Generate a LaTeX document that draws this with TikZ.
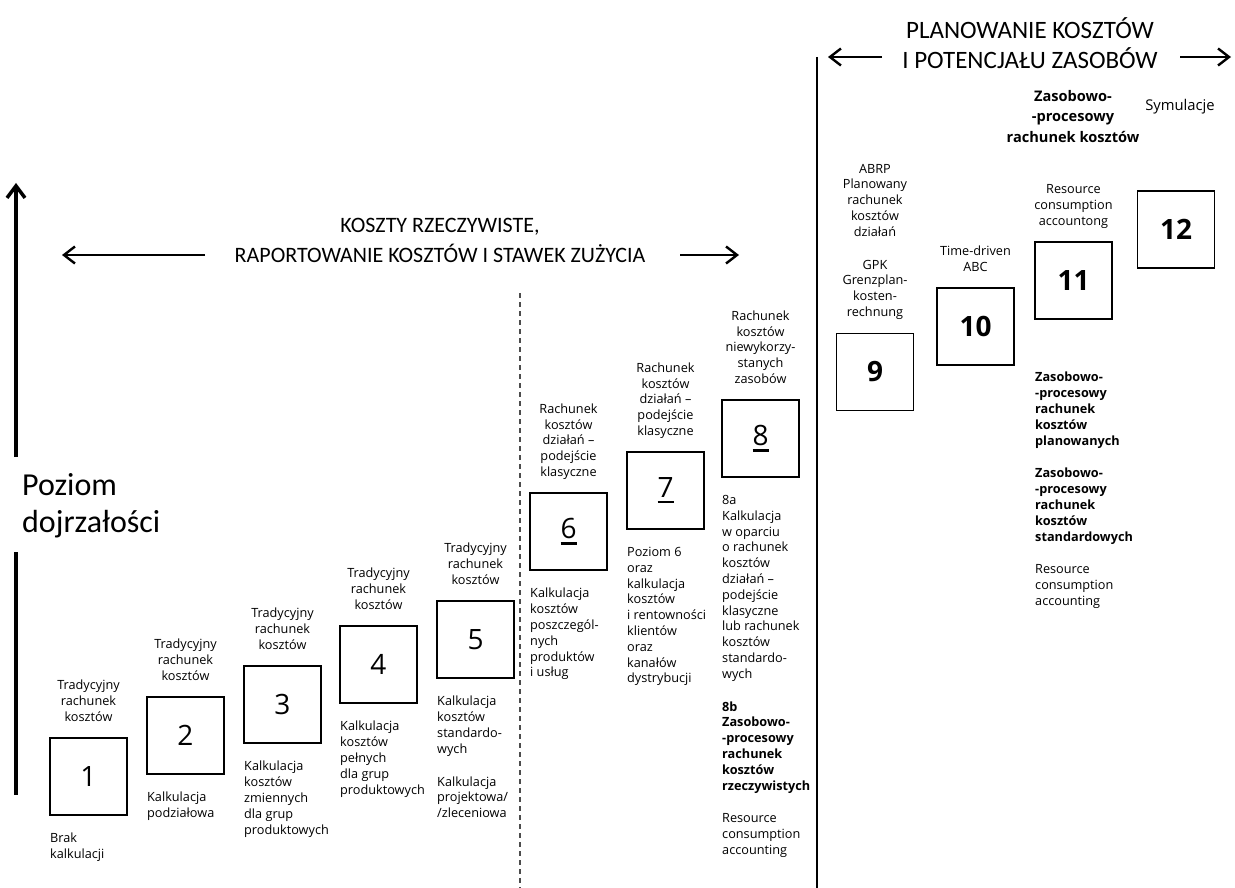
\documentclass[tikz,border=0pt]{standalone}
\usepackage{fontspec}
\setmainfont{Open Sans}
\newfontfamily\headfont{Carlito}
\usetikzlibrary{arrows.meta}
\newcommand{\dpfix}{\rule[-3.4pt]{0pt}{3.4pt}}
\newcommand{\digitul}[1]{\setbox0\hbox{#1}\rlap{\rule[-6pt]{\wd0}{2.3pt}}\box0}
\begin{document}
\begin{tikzpicture}[x=1pt,y=-1pt,
  box/.style={draw, line width=1.4pt, minimum size=77pt, inner sep=0pt, font=\fontsize{28}{30}\selectfont},
  bbox/.style={box, font=\fontsize{28}{30}\selectfont\bfseries},
  up/.style={anchor=south, align=center, inner sep=0pt, font=\fontsize{12.7}{15.8}\selectfont},
  dn/.style={anchor=north west, align=left, inner sep=0pt, font=\fontsize{12.7}{15.8}\selectfont},
  head/.style={align=center, inner sep=0pt, font=\headfont\fontsize{22}{30}\selectfont},
  headR/.style={align=center, inner sep=0pt, font=\headfont\fontsize{25}{30}\selectfont},
  harrow/.style={line width=2.4pt, -{Straight Barb[length=11pt,width=17pt]}},
  varrow/.style={line width=3.5pt, -{Straight Barb[length=12pt,width=18pt]}},
  vline/.style={line width=3.5pt},
  sep/.style={line width=1.5pt},
  dsep/.style={line width=1.4pt, draw=black!70, dash pattern=on 5pt off 4pt}
]
\useasboundingbox (0,0) rectangle (1235,888);

% boxes
\node[box] (b1) at (88.5,776.5) {1};
\node[box] (b2) at (185.5,735.5) {2};
\node[box] (b3) at (282.5,704.5) {3};
\node[box] (b4) at (378.5,664.5) {4};
\node[box] (b5) at (475.5,639.5) {5};
\node[box] (b6) at (568.5,531.5) {\digitul{6}};
\node[box] (b7) at (665.5,490.5) {\digitul{7}};
\node[box] (b8) at (760.5,438.5) {\digitul{8}};
\node[bbox] (b9) at (875,372) {9};
\node[bbox] (b10) at (975.5,326.5) {10};
\node[bbox] (b11) at (1073.5,280.5) {11};
\node[bbox] (b12) at (1176,229.5) {12};

% labels above boxes
\node[up] (a1) at (88.5,725) {Tradycyjny\\rachunek\\kosztów\dpfix};
\node[up] (a2) at (185.5,684) {Tradycyjny\\rachunek\\kosztów\dpfix};
\node[up] (a3) at (282.5,653) {Tradycyjny\\rachunek\\kosztów\dpfix};
\node[up] (a4) at (378.5,613) {Tradycyjny\\rachunek\\kosztów\dpfix};
\node[up] (a5) at (475.5,588) {Tradycyjny\\rachunek\\kosztów\dpfix};
\node[up] (a6) at (568.5,480) {Rachunek\\kosztów\\działań –\\podejście\\klasyczne\dpfix};
\node[up] (a7) at (665.5,439) {Rachunek\\kosztów\\działań –\\podejście\\klasyczne\dpfix};
\node[up] (a8) at (760.5,387) {Rachunek\\kosztów\\niewykorzy-\\stanych\\zasobów\dpfix};
\node[up] (a9) at (875,320) {ABRP\\Planowany\\rachunek\\kosztów\\działań\\[17pt]GPK\\Grenzplan-\\kosten-\\rechnung\dpfix};
\node[up] (a10) at (975.5,275) {Time-driven\\ABC\dpfix};
\node[up] (a11) at (1073.5,229) {Resource\\consumption\\accountong\dpfix};

% labels below boxes
\node[dn] (u1) at (50,832.5) {Brak\\kalkulacji};
\node[dn] (u2) at (147,792) {Kalkulacja\\podziałowa};
\node[dn] (u3) at (244,761) {Kalkulacja\\kosztów\\zmiennych\\dla grup\\produktowych};
\node[dn] (u4) at (340,721) {Kalkulacja\\kosztów\\pełnych\\dla grup\\produktowych};
\node[dn] (u5) at (437,696) {Kalkulacja\\kosztów\\standardo-\\wych\\[17pt]Kalkulacja\\projektowa/\\/zleceniowa};
\node[dn] (u6) at (530,588) {Kalkulacja\\kosztów\\poszczegól-\\nych\\produktów\\i usług};
\node[dn] (u7) at (627,547) {Poziom 6\\oraz\\kalkulacja\\kosztów\\i rentowności\\klientów\\oraz\\kanałów\\dystrybucji};
\node[dn] (u8) at (722,495) {8a\\Kalkulacja\\w oparciu\\o rachunek\\kosztów\\działań –\\podejście\\klasyczne\\lub rachunek\\kosztów\\standardo-\\wych\\[17pt]\textbf{8b}\\\textbf{Zasobowo-}\\\textbf{-procesowy}\\\textbf{rachunek}\\\textbf{kosztów}\\\textbf{rzeczywistych}\\[17pt]Resource\\consumption\\accounting};
\node[dn] (u11) at (1035,372) {\textbf{Zasobowo-}\\\textbf{-procesowy}\\\textbf{rachunek}\\\textbf{kosztów}\\\textbf{planowanych}\\[17pt]\textbf{Zasobowo-}\\\textbf{-procesowy}\\\textbf{rachunek}\\\textbf{kosztów}\\\textbf{standardowych}\\[17pt]Resource\\consumption\\accounting};

% top right texts
\node[anchor=north, align=center, inner sep=0pt, font=\fontsize{14.6}{20.5}\selectfont\bfseries] (zp) at (1073,90) {Zasobowo-\\-procesowy\\rachunek kosztów};
\node[anchor=base, inner sep=0pt, font=\fontsize{14.8}{18}\selectfont] (sym) at (1180,111) {Symulacje};

% headings
\node[head, anchor=north] (hL) at (440,218) {KOSZTY RZECZYWISTE,\\RAPORTOWANIE KOSZTÓW I STAWEK ZUŻYCIA};
\node[headR, anchor=north] (hR) at (1030,17) {PLANOWANIE KOSZTÓW\\I POTENCJAŁU ZASOBÓW};

% horizontal arrows
\coordinate (la1) at (205,255); \coordinate (la2) at (62,255);
\coordinate (ra1) at (680,255); \coordinate (ra2) at (739,255);
\coordinate (tl1) at (882,57); \coordinate (tl2) at (828,57);
\coordinate (tr1) at (1180,57); \coordinate (tr2) at (1231,57);
\draw[harrow] (la1) -- (la2);
\draw[harrow] (ra1) -- (ra2);
\draw[harrow] (tl1) -- (tl2);
\draw[harrow] (tr1) -- (tr2);

% vertical axis
\node[anchor=north west, align=left, inner sep=0pt, font=\headfont\fontsize{32}{37}\selectfont] (pz) at (22,473) {Poziom\\dojrzałości};
\coordinate (v1) at (16,457); \coordinate (v2) at (16,183);
\coordinate (v3) at (16,552); \coordinate (v4) at (16,795);
\draw[varrow] (v1) -- (v2);
\draw[vline] (v3) -- (v4);

% separators
\coordinate (s1) at (817,57); \coordinate (s2) at (817,888);
\draw[sep] (s1) -- (s2);
\coordinate (d1) at (520,293); \coordinate (d2) at (520,888);
\draw[dsep] (d1) -- (d2);
\end{tikzpicture}
\end{document}
